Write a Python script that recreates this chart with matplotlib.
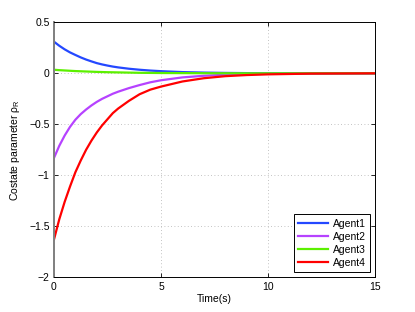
import matplotlib
matplotlib.use("Agg")
from matplotlib import pyplot as plt

plt.rcParams['font.family'] = ['Liberation Sans', 'DejaVu Sans']

# values
t = [0, 0.25, 0.5, 0.75, 1, 1.25, 1.5, 1.75, 2, 2.25, 2.5, 2.75, 3,
     3.5, 4, 4.5, 5, 6, 7, 8, 9, 10, 12, 15]
agent1 = [0.31, 0.27, 0.235, 0.205, 0.18, 0.156, 0.135, 0.117, 0.10, 0.087, 0.076, 0.066, 0.058,
          0.045, 0.035, 0.027, 0.021, 0.012, 0.007, 0.004, 0.002, 0.001, 0.0, 0.0]
agent2 = [-0.83, -0.71, -0.61, -0.525, -0.455, -0.40, -0.355, -0.315, -0.28, -0.25, -0.225, -0.20, -0.18,
          -0.145, -0.115, -0.088, -0.068, -0.04, -0.024, -0.014, -0.008, -0.005, -0.002, 0.0]
agent3 = [0.035, 0.031, 0.028, 0.025, 0.022, 0.02, 0.018, 0.016, 0.014, 0.0125, 0.011, 0.01, 0.009,
          0.007, 0.005, 0.004, 0.003, 0.002, 0.001, 0.0005, 0.0, 0.0, 0.0, 0.0]
agent4 = [-1.63, -1.43, -1.26, -1.11, -0.97, -0.855, -0.75, -0.66, -0.58, -0.51, -0.45, -0.39, -0.345,
          -0.27, -0.205, -0.16, -0.13, -0.08, -0.048, -0.028, -0.017, -0.01, -0.003, 0.0]
labels = ['Agent1', 'Agent2', 'Agent3', 'Agent4']
colors = ['#2448ff', '#b642ff', '#5cf000', '#ff0000']

xticks = [0, 5, 10, 15]
yticks = [-2, -1.5, -1, -0.5, 0, 0.5]
yticklabels = ['\u22122', '\u22121.5', '\u22121', '\u22120.5', '0', '0.5']

fig = plt.figure(figsize=(4.15, 3.12), dpi=100)
ax = fig.add_axes([0.130, 0.111, 0.774, 0.8175])

for ys, lab, col in zip([agent1, agent2, agent3, agent4], labels, colors):
    ax.plot(t, ys, color=col, linewidth=1.6, label=lab)

ax.set_xlim(0, 15)
ax.set_ylim(-2, 0.5)
ax.set_xticks(xticks)
ax.set_yticks(yticks)
ax.set_yticklabels(yticklabels)
ax.tick_params(direction='in', labelsize=7.5, length=3, width=0.6, top=True, right=True, pad=3)
ax.grid(True, linestyle=(0, (1, 3)), color='#b0b0b0', linewidth=0.6)
for s in ['top', 'right', 'bottom']:
    ax.spines[s].set_linewidth(0.7)
ax.spines['left'].set_color('#7f7f7f')
ax.spines['left'].set_linewidth(1.4)

ax.set_xlabel('Time(s)', fontsize=7.5, labelpad=2)
ax.set_ylabel('Costate parameter \u03c1$_\\mathregular{R}$', fontsize=7.5, labelpad=5)

leg = ax.legend(loc='lower right', fontsize=7.5, fancybox=False, framealpha=1,
                edgecolor='black', handlelength=2.8, borderaxespad=0.5,
                labelspacing=0.3, handletextpad=0.5, borderpad=0.4)
leg.get_frame().set_linewidth(0.7)

fig.savefig('out.png', dpi=100)
